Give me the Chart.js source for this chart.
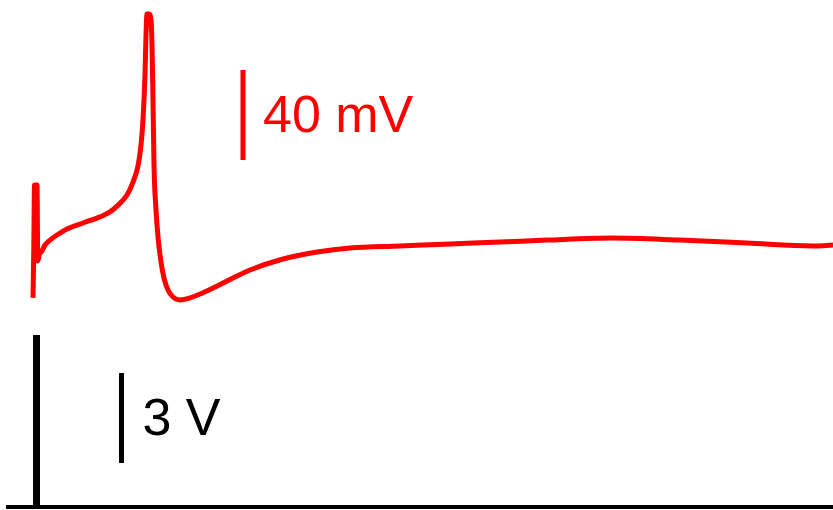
<!DOCTYPE html>
<html>
<head>
<meta charset="utf-8">
<script src="https://cdn.jsdelivr.net/npm/chart.js@4.4.1/dist/chart.umd.min.js"></script>
<style>
  html, body { margin: 0; padding: 0; background: #fff; }
  #c { display: block; }
</style>
</head>
<body>
<canvas id="c" width="833" height="510"></canvas>
<script>
// membrane potential trace (time in ms, potential in mV)
const vmTime = [-2.0, -1.6, -1.25, 0.0, 0.4, 1.2, 2.5, 4.0, 6.5, 11.5, 15.0, 23.0, 31.5, 36.5, 40.0, 45.0, 48.0, 50.5, 52.0, 53.0, 54.0, 54.5, 55.0, 56.0, 57.0, 57.5, 58.0, 58.5, 59.5, 60.5, 62.0, 63.5, 65.5, 68.0, 71.5, 76.5, 81.5, 89.0, 98.0, 106.5, 123.0, 140.0, 156.5, 181.5, 206.5, 231.5, 255.0, 288.0, 321.5, 355.0, 388.0, 398.0];
const vmMv   = [-82.4, -60.0, -32.2, -32.2, -66.0, -63.0, -61.5, -58.9, -56.7, -53.6, -51.8, -49.1, -46.4, -44.2, -41.6, -36.7, -30.9, -23.8, -14.4, -3.3, 16.7, 34.4, 43.8, 43.8, 41.1, 30.0, 5.6, -23.3, -43.3, -55.3, -66.4, -73.6, -78.9, -82.0, -83.3, -82.4, -80.7, -77.6, -73.6, -70.0, -65.1, -62.0, -60.2, -59.3, -58.4, -57.6, -56.7, -55.8, -56.7, -58.0, -59.3, -58.9];

// stimulus trace (time in ms, volts)
const stimTime = [-15.5, -1.0, -1.0, 0.5, 0.5, 398];
const stimV    = [0, 0, 5.67, 5.67, 0, 0];

// scale bars
const mvBarTime = 103, mvBarRange = [-21.1, 18.9], mvBarLabel = '40 mV';
const vBarTime = 42.25, vBarRange = [1.467, 4.467], vBarLabel = '3 V';

const RED = '#ff0000', BLACK = '#000000';
const FONT = '52px "Liberation Sans", Arial, sans-serif';

const pts = (xs, ys) => xs.map((x, i) => ({ x, y: ys[i] }));

const barLabels = {
    id: 'barLabels',
    afterDatasetsDraw(chart) {
        const { ctx, scales: { x, y, y2 } } = chart;
        ctx.save();
        ctx.font = FONT;
        ctx.textBaseline = 'alphabetic';
        ctx.fillStyle = RED;
        const my = (y.getPixelForValue(mvBarRange[0]) + y.getPixelForValue(mvBarRange[1])) / 2;
        ctx.fillText(mvBarLabel, x.getPixelForValue(mvBarTime) + 20, my + 17);
        ctx.fillStyle = BLACK;
        const vy = (y2.getPixelForValue(vBarRange[0]) + y2.getPixelForValue(vBarRange[1])) / 2;
        ctx.fillText(vBarLabel, x.getPixelForValue(vBarTime) + 21, vy + 17);
        ctx.restore();
    }
};

new Chart(document.getElementById('c'), {
    type: 'line',
    data: {
        datasets: [
            { data: pts(vmTime, vmMv), yAxisID: 'y', borderColor: RED, borderWidth: 5, pointRadius: 0, cubicInterpolationMode: 'monotone' },
            { data: pts(stimTime, stimV), yAxisID: 'y2', borderColor: BLACK, borderWidth: 4, pointRadius: 0, tension: 0, borderJoinStyle: 'miter' },
            { data: pts([mvBarTime, mvBarTime], mvBarRange), yAxisID: 'y', borderColor: RED, borderWidth: 5, pointRadius: 0 },
            { data: pts([vBarTime, vBarTime], vBarRange), yAxisID: 'y2', borderColor: BLACK, borderWidth: 5, pointRadius: 0 },
        ]
    },
    options: {
        responsive: false,
        animation: false,
        layout: { padding: 0 },
        plugins: { legend: { display: false }, tooltip: { enabled: false } },
        scales: {
            x: { type: 'linear', min: -18.5, max: 398, display: false },
            y: { min: -176.67, max: 50, display: false },
            y2: { min: -0.1, max: 16.9, display: false },
        }
    },
    plugins: [barLabels]
});
</script>
</body>
</html>
